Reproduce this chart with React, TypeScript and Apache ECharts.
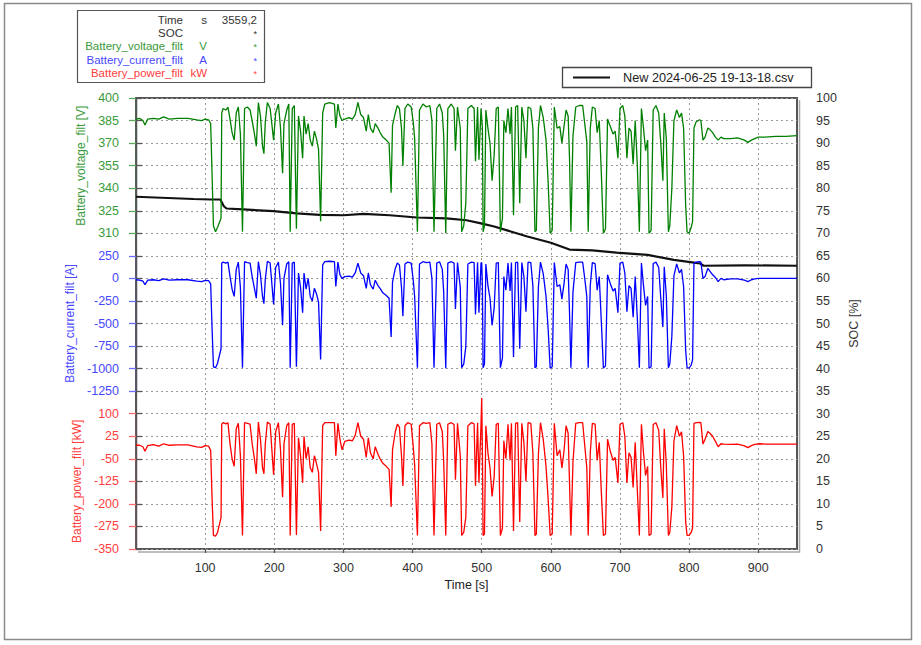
import React, { useEffect, useRef } from 'react';
import * as echarts from 'echarts';

// ---------- data ----------
const time = [
  0, 5, 10, 13, 17, 25, 33, 40, 48, 60,
  75, 88, 95, 100, 105, 108, 110, 112, 115, 118,
  123, 124, 126, 130, 133, 136, 139, 142, 145, 148,
  151, 154, 157, 161, 165, 168, 171, 174, 177, 180,
  183, 185, 187, 190, 194, 199, 202, 206, 209, 212,
  214, 218, 221, 223, 226, 229, 232, 235, 238, 241,
  243, 246, 249, 252, 255, 258, 261, 264, 267, 270,
  273, 280, 287, 289, 292, 295, 298, 302, 308, 313,
  317, 321, 325, 329, 333, 336, 339, 343, 346, 350,
  353, 357, 362, 366, 369, 371, 375, 378, 381, 384,
  386, 389, 393, 398, 401, 403, 407, 410, 415, 420,
  425, 428, 431, 435, 439, 443, 445, 448, 451, 456,
  460, 462, 465, 469, 471, 474, 477, 480, 485, 489,
  491, 494, 496, 499, 500, 501, 502, 504, 506, 509,
  512, 515, 518, 521, 524, 527, 530, 532, 535, 538,
  541, 543, 546, 549, 552, 555, 558, 561, 564, 567,
  571, 574, 577, 579, 582, 585, 589, 593, 596, 599,
  602, 605, 609, 613, 616, 619, 622, 625, 627, 629,
  632, 636, 641, 646, 649, 652, 654, 657, 660, 664,
  667, 670, 673, 676, 679, 682, 686, 690, 693, 697,
  700, 704, 707, 710, 713, 716, 719, 722, 725, 728,
  731, 734, 737, 740, 742, 745, 748, 752, 756, 759,
  762, 764, 767, 770, 772, 775, 778, 782, 786, 789,
  792, 795, 797, 800, 803, 805, 807, 810, 815, 817,
  820, 823, 827, 830, 834, 838, 842, 846, 850, 860,
  870, 880, 885, 890, 895, 900, 910, 925, 940, 956,
];

const voltage = [
  386, 386.5, 385, 382, 386, 386.5, 386, 387.5, 386, 386.5,
  386.5, 385.5, 385, 386, 385.5, 383, 350, 315, 311, 314,
  320, 390, 393, 392, 394, 386, 377, 372, 390, 394,
  376, 311, 393, 394, 392, 385, 377, 368, 397, 388,
  368, 363, 384, 397, 393, 372, 390, 396, 380, 350,
  383, 392, 396, 311, 393, 395, 313, 388, 378, 360,
  388, 376, 383, 372, 368, 378, 373, 366, 318, 390,
  396, 397, 396, 380, 396, 388, 385, 386, 387, 386,
  389, 397, 389, 387, 378, 389, 380, 377, 383, 380,
  377, 374, 372, 370, 337, 382, 390, 395, 393, 380,
  355, 393, 396, 394, 384, 373, 311, 392, 396, 394,
  395, 385, 311, 393, 396, 390, 375, 310, 393, 396,
  393, 365, 394, 380, 311, 315, 330, 393, 395, 393,
  358, 394, 359, 393, 393, 380, 311, 315, 392, 380,
  370, 345, 362, 393, 394, 311, 320, 385, 377, 393,
  376, 394, 322, 394, 395, 330, 394, 385, 360, 394,
  393, 380, 311, 312, 380, 395, 387, 372, 345, 310,
  312, 394, 380, 381, 370, 381, 392, 388, 360, 311,
  375, 394, 395, 395, 383, 371, 311, 380, 394, 393,
  377, 385, 350, 310, 313, 386, 381, 376, 378, 360,
  393, 395, 388, 360, 380, 378, 356, 385, 356, 311,
  393, 380, 365, 372, 310, 312, 392, 395, 390, 370,
  345, 390, 373, 311, 315, 340, 385, 392, 387, 390,
  380, 328, 311, 310, 314, 318, 380, 384, 385.5, 385,
  372, 374, 380, 379, 377, 374, 372, 374, 373, 373,
  373.5, 372, 370.5, 372, 373, 374, 374, 374.5, 374.5, 375,
];

const current = [
  -15, -18, -30, -70, -20, -15, -25, -5, -20, -15,
  -15, -30, -35, -22, -25, -60, -550, -980, -990, -940,
  -780, 170, 180, 170, 180, 20, -120, -200, 100, 180,
  -100, -990, 185, 175, 170, 20, -100, -220, 185, 40,
  -200, -280, -10, 190, 170, -290, 120, 180, -60, -520,
  0, 160, 185, -990, 170, 180, -980, 60, -100, -380,
  60, -120, 0, -200, -250, -110, -170, -260, -900, 150,
  185, 190, 185, -90, 180, 40, 0, 20, 25, 15,
  60, 170, 60, 30, -110, 60, -70, -120, -20, -80,
  -110, -160, -190, -220, -650, -40, 110, 170, 150, -100,
  -420, 160, 180, 170, -20, -200, -990, 160, 185, 175,
  180, 0, -990, 170, 185, 100, -150, -995, 170, 185,
  170, -340, 175, -100, -990, -950, -760, 160, 180, 175,
  -400, 180, -380, 170, 175, -90, -990, -950, 160, -80,
  -220, -520, -330, 170, 175, -990, -880, 20, -130, 170,
  -140, 175, -870, 175, 180, -780, 175, 20, -370, 180,
  175, -80, -990, -980, -90, 180, 50, -200, -550, -995,
  -980, 175, -90, -70, -230, -60, 160, 100, -380, -990,
  -150, 175, 180, 180, 0, -200, -990, -80, 175, 165,
  -130, 20, -480, -995, -970, 40, -60, -140, -110, -380,
  170, 180, 60, -370, -80, -110, -430, 20, -430, -990,
  170, -80, -300, -200, -995, -980, 165, 180, 120, -220,
  -540, 130, -190, -990, -950, -640, 30, 160, 60, 100,
  -90, -800, -990, -995, -960, -900, 170, 180, 185, 180,
  0, 20, 110, 80, 40, 10, -35, 0, -15, -5,
  -5, -20, -35, -15, -5, 0, 0, 0, 0, 0,
];

const power = [
  -5, -5, -10, -25, -6, -3, -8, 0, -5, -4,
  -4, -10, -12, -6, -8, -22, -180, -305, -307, -295,
  -245, 65, 70, 66, 70, 0, -50, -75, 50, 68,
  -40, -305, 70, 68, 65, 0, -45, -100, 72, 15,
  -80, -100, 0, 72, 65, -103, 40, 70, -20, -178,
  0, 60, 70, -305, 65, 68, -303, 20, -40, -130,
  25, -50, -10, -80, -95, -40, -65, -95, -290, 60,
  70, 70, 70, -40, 68, 15, -20, 8, 12, 10,
  28, 70, 25, 15, -45, 20, -30, -50, -10, -35,
  -50, -65, -75, -85, -210, -20, 40, 65, 55, -40,
  -140, 60, 70, 65, -10, -70, -305, 60, 70, 68,
  70, 0, -305, 65, 70, 40, -60, -305, 65, 70,
  64, -120, 68, -40, -305, -295, -245, 60, 70, 66,
  -140, 70, -130, 65, 152, -30, -305, -300, 60, -30,
  -80, -175, -110, 65, 68, -305, -280, 10, -50, 65,
  -55, 68, -290, 68, 70, -260, 68, 5, -125, 70,
  68, -30, -305, -300, -35, 70, 15, -75, -180, -305,
  -300, 68, -40, -20, -80, -25, 60, 35, -130, -305,
  -60, 68, 70, 70, -5, -80, -305, -30, 68, 65,
  -55, 5, -160, -305, -300, 15, -25, -55, -45, -130,
  65, 70, 25, -130, -30, -45, -145, 5, -150, -305,
  65, -30, -105, -75, -305, -300, 64, 70, 45, -80,
  -180, 50, -70, -305, -295, -210, 10, 60, 25, 40,
  -40, -260, -305, -305, -295, -280, 68, 70, 71, 70,
  -1, 15, 41, 35, 25, 8, -10, 0, -1, -2,
  -1, -7, -13, -6, -2, 0, -1, -1, -1, -1,
];

const socTime = [0, 83, 108, 122, 124, 127, 131, 155, 199, 232, 266, 300, 329, 367, 406, 449, 478, 499, 518, 542, 566, 600, 627, 660, 695, 740, 778, 807, 816, 821, 880, 956];
const soc = [78.1, 77.6, 77.5, 77.5, 76.9, 76.0, 75.5, 75.3, 74.9, 74.4, 74.1, 74.0, 74.3, 74.0, 73.5, 73.3, 72.9, 72.2, 71.5, 70.4, 69.3, 67.9, 66.4, 66.2, 65.7, 65.2, 64.1, 63.5, 63.3, 62.8, 62.9, 62.8];

const voltageTicks = [310, 325, 340, 355, 370, 385, 400];
const currentTicks = [-1250, -1000, -750, -500, -250, 0, 250];
const powerTicks = [-350, -275, -200, -125, -50, 25, 100];
const timeTicks = [100, 200, 300, 400, 500, 600, 700, 800, 900];

const legendNames = ['Time', 'SOC', 'Battery_voltage_filt', 'Battery_current_filt', 'Battery_power_filt'];
const legendUnits = ['s', '', 'V', 'A', 'kW'];
const legendValues = ['3559,2', '*', '*', '*', '*'];
const fileName = 'New 2024-06-25 19-13-18.csv';

// ---------- styling ----------
const FONT = '"Liberation Sans", Arial, Helvetica, sans-serif';
const GREEN = '#008000';
const GREEN_TXT = '#3a9a3a';
const GREEN_AX = '#5aaa5a';
const BLUE = '#0000ff';
const BLUE_TXT = '#4848ff';
const BLUE_AX = '#6a6aff';
const RED = '#ff0000';
const RED_TXT = '#ff4040';
const RED_AX = '#ff6a6a';
const legendColors = ['#333', '#333', GREEN_TXT, BLUE_TXT, RED_TXT];

const X_MAX = 956;
const PL = 136;
const PT = 98;
const PW = 661;
const PH = 451;
const ROW = PH / 20;

const plain = (v: number) => String(v);

function leftAxis(gridIndex: number, min: number, max: number, ticks: number[], name: string, txt: string, ax: string) {
  return {
    type: 'value',
    gridIndex,
    min,
    max,
    position: 'left',
    offset: 7,
    name,
    nameLocation: 'middle',
    nameGap: 42,
    nameTextStyle: { color: txt, fontSize: 12, fontFamily: FONT },
    axisLine: { show: true, lineStyle: { color: ax, width: 1.3 } },
    axisTick: { show: true, customValues: ticks, length: 7, lineStyle: { color: ax, width: 1.3 } },
    axisLabel: { show: true, customValues: ticks, margin: 10, color: txt, fontSize: 12.5, fontFamily: FONT, formatter: plain },
    splitLine: { show: false },
  };
}

function pairs(xs: number[], ys: number[]) {
  return xs.map((x, i) => [x, ys[i]]);
}

function buildOption() {
  const graphic: any[] = [
    { type: 'rect', silent: true, shape: { x: 4.5, y: 3.5, width: 907, height: 636 }, style: { fill: 'none', stroke: '#8a8a8a', lineWidth: 1.5 } },
    { type: 'polyline', silent: true, shape: { points: [[138, 552], [799.5, 552], [799.5, 100]] }, style: { fill: 'none', stroke: '#a8a8a8', lineWidth: 1.5 } },
    { type: 'rect', silent: true, shape: { x: 77.5, y: 10.5, width: 187, height: 72 }, style: { fill: '#fff', stroke: '#555', lineWidth: 1.2 } },
    { type: 'rect', silent: true, shape: { x: 562.5, y: 67.5, width: 249, height: 20 }, style: { fill: '#fff', stroke: '#444', lineWidth: 1.3 } },
    { type: 'line', silent: true, shape: { x1: 573, y1: 77.5, x2: 610, y2: 77.5 }, style: { stroke: '#111', lineWidth: 2 } },
    { type: 'text', silent: true, x: 623, y: 78, style: { text: fileName, fill: '#222', fontSize: 12.7, fontFamily: FONT, align: 'left', verticalAlign: 'middle' } },
  ];
  const rowY = [19.5, 33, 46, 59.5, 72.5];
  legendNames.forEach((n, i) => {
    graphic.push({ type: 'text', silent: true, x: 183, y: rowY[i], style: { text: n, fill: legendColors[i], fontSize: 11.5, fontFamily: FONT, align: 'right', verticalAlign: 'middle' } });
    if (legendUnits[i]) {
      graphic.push({ type: 'text', silent: true, x: 207, y: rowY[i], style: { text: legendUnits[i], fill: legendColors[i], fontSize: 11.5, fontFamily: FONT, align: 'right', verticalAlign: 'middle' } });
    }
    const isStar = legendValues[i] === '*';
    graphic.push({ type: 'text', silent: true, x: 257, y: rowY[i] + (isStar ? 1 : 0), style: { text: legendValues[i], fill: legendColors[i], fontSize: isStar ? 9 : 11.5, fontFamily: FONT, align: 'right', verticalAlign: 'middle' } });
  });

  const hiddenX = (gridIndex: number) => ({ type: 'value', gridIndex, min: 0, max: X_MAX, show: false });

  return {
    animation: false,
    backgroundColor: '#fff',
    textStyle: { fontFamily: FONT },
    grid: [
      { left: PL, top: PT, width: PW, height: ROW * 6 },
      { left: PL, top: PT + ROW * 7, width: PW, height: ROW * 6 },
      { left: PL, top: PT + ROW * 14, width: PW, height: ROW * 6 },
      { left: PL, top: PT, width: PW, height: PH, show: true, borderColor: '#555', borderWidth: 2, backgroundColor: 'transparent' },
    ],
    xAxis: [
      hiddenX(0),
      hiddenX(1),
      hiddenX(2),
      {
        type: 'value',
        gridIndex: 3,
        min: 0,
        max: X_MAX,
        interval: 100,
        name: 'Time [s]',
        nameLocation: 'middle',
        nameGap: 25,
        nameTextStyle: { color: '#222', fontSize: 12.5, fontFamily: FONT },
        axisLine: { show: false },
        axisTick: { show: true, customValues: timeTicks, length: 4, lineStyle: { color: '#555', width: 1.3 } },
        axisLabel: { show: true, customValues: timeTicks, margin: 12, color: '#333', fontSize: 12.5, fontFamily: FONT, formatter: plain },
        splitLine: { show: true, lineStyle: { type: [2, 3], color: '#9a9a9a', width: 1 } },
      },
    ],
    yAxis: [
      leftAxis(0, 310, 400, voltageTicks, 'Battery_voltage_filt [V]', GREEN_TXT, GREEN_AX),
      leftAxis(1, -1250, 250, currentTicks, 'Battery_current_filt [A]', BLUE_TXT, BLUE_AX),
      leftAxis(2, -350, 100, powerTicks, 'Battery_power_filt [kW]', RED_TXT, RED_AX),
      {
        type: 'value',
        gridIndex: 3,
        min: 0,
        max: 100,
        interval: 5,
        position: 'right',
        offset: 9,
        name: 'SOC [%]',
        nameLocation: 'middle',
        nameGap: 35,
        nameTextStyle: { color: '#333', fontSize: 12.5, fontFamily: FONT },
        axisLine: { show: true, lineStyle: { color: '#555', width: 1.3 } },
        axisTick: { show: true, length: 6, lineStyle: { color: '#555', width: 1.3 } },
        axisLabel: { show: true, interval: 0, margin: 10, color: '#333', fontSize: 12.5, fontFamily: FONT, formatter: plain },
        splitLine: { show: true, lineStyle: { type: [2, 3], color: '#9a9a9a', width: 1 } },
      },
    ],
    series: [
      {
        type: 'line',
        name: fileName,
        xAxisIndex: 3,
        yAxisIndex: 3,
        data: pairs(socTime, soc),
        symbol: 'none',
        lineStyle: { color: '#111', width: 2.2 },
      },
      {
        type: 'line',
        name: 'Battery_voltage_filt',
        xAxisIndex: 0,
        yAxisIndex: 0,
        data: pairs(time, voltage),
        symbol: 'none',
        clip: false,
        lineStyle: { color: GREEN, width: 1.3 },
      },
      {
        type: 'line',
        name: 'Battery_current_filt',
        xAxisIndex: 1,
        yAxisIndex: 1,
        data: pairs(time, current),
        symbol: 'none',
        clip: false,
        lineStyle: { color: BLUE, width: 1.3 },
      },
      {
        type: 'line',
        name: 'Battery_power_filt',
        xAxisIndex: 2,
        yAxisIndex: 2,
        data: pairs(time, power),
        symbol: 'none',
        clip: false,
        lineStyle: { color: RED, width: 1.3 },
      },
    ],
    graphic,
  };
}

export default function App() {
  const ref = useRef<HTMLDivElement>(null);
  useEffect(() => {
    document.body.style.margin = '0';
    const chart = echarts.init(ref.current as HTMLDivElement, null, { renderer: 'svg' });
    chart.setOption(buildOption() as any);
    return () => {
      chart.dispose();
    };
  }, []);
  return <div ref={ref} style={{ width: 921, height: 645 }} />;
}
